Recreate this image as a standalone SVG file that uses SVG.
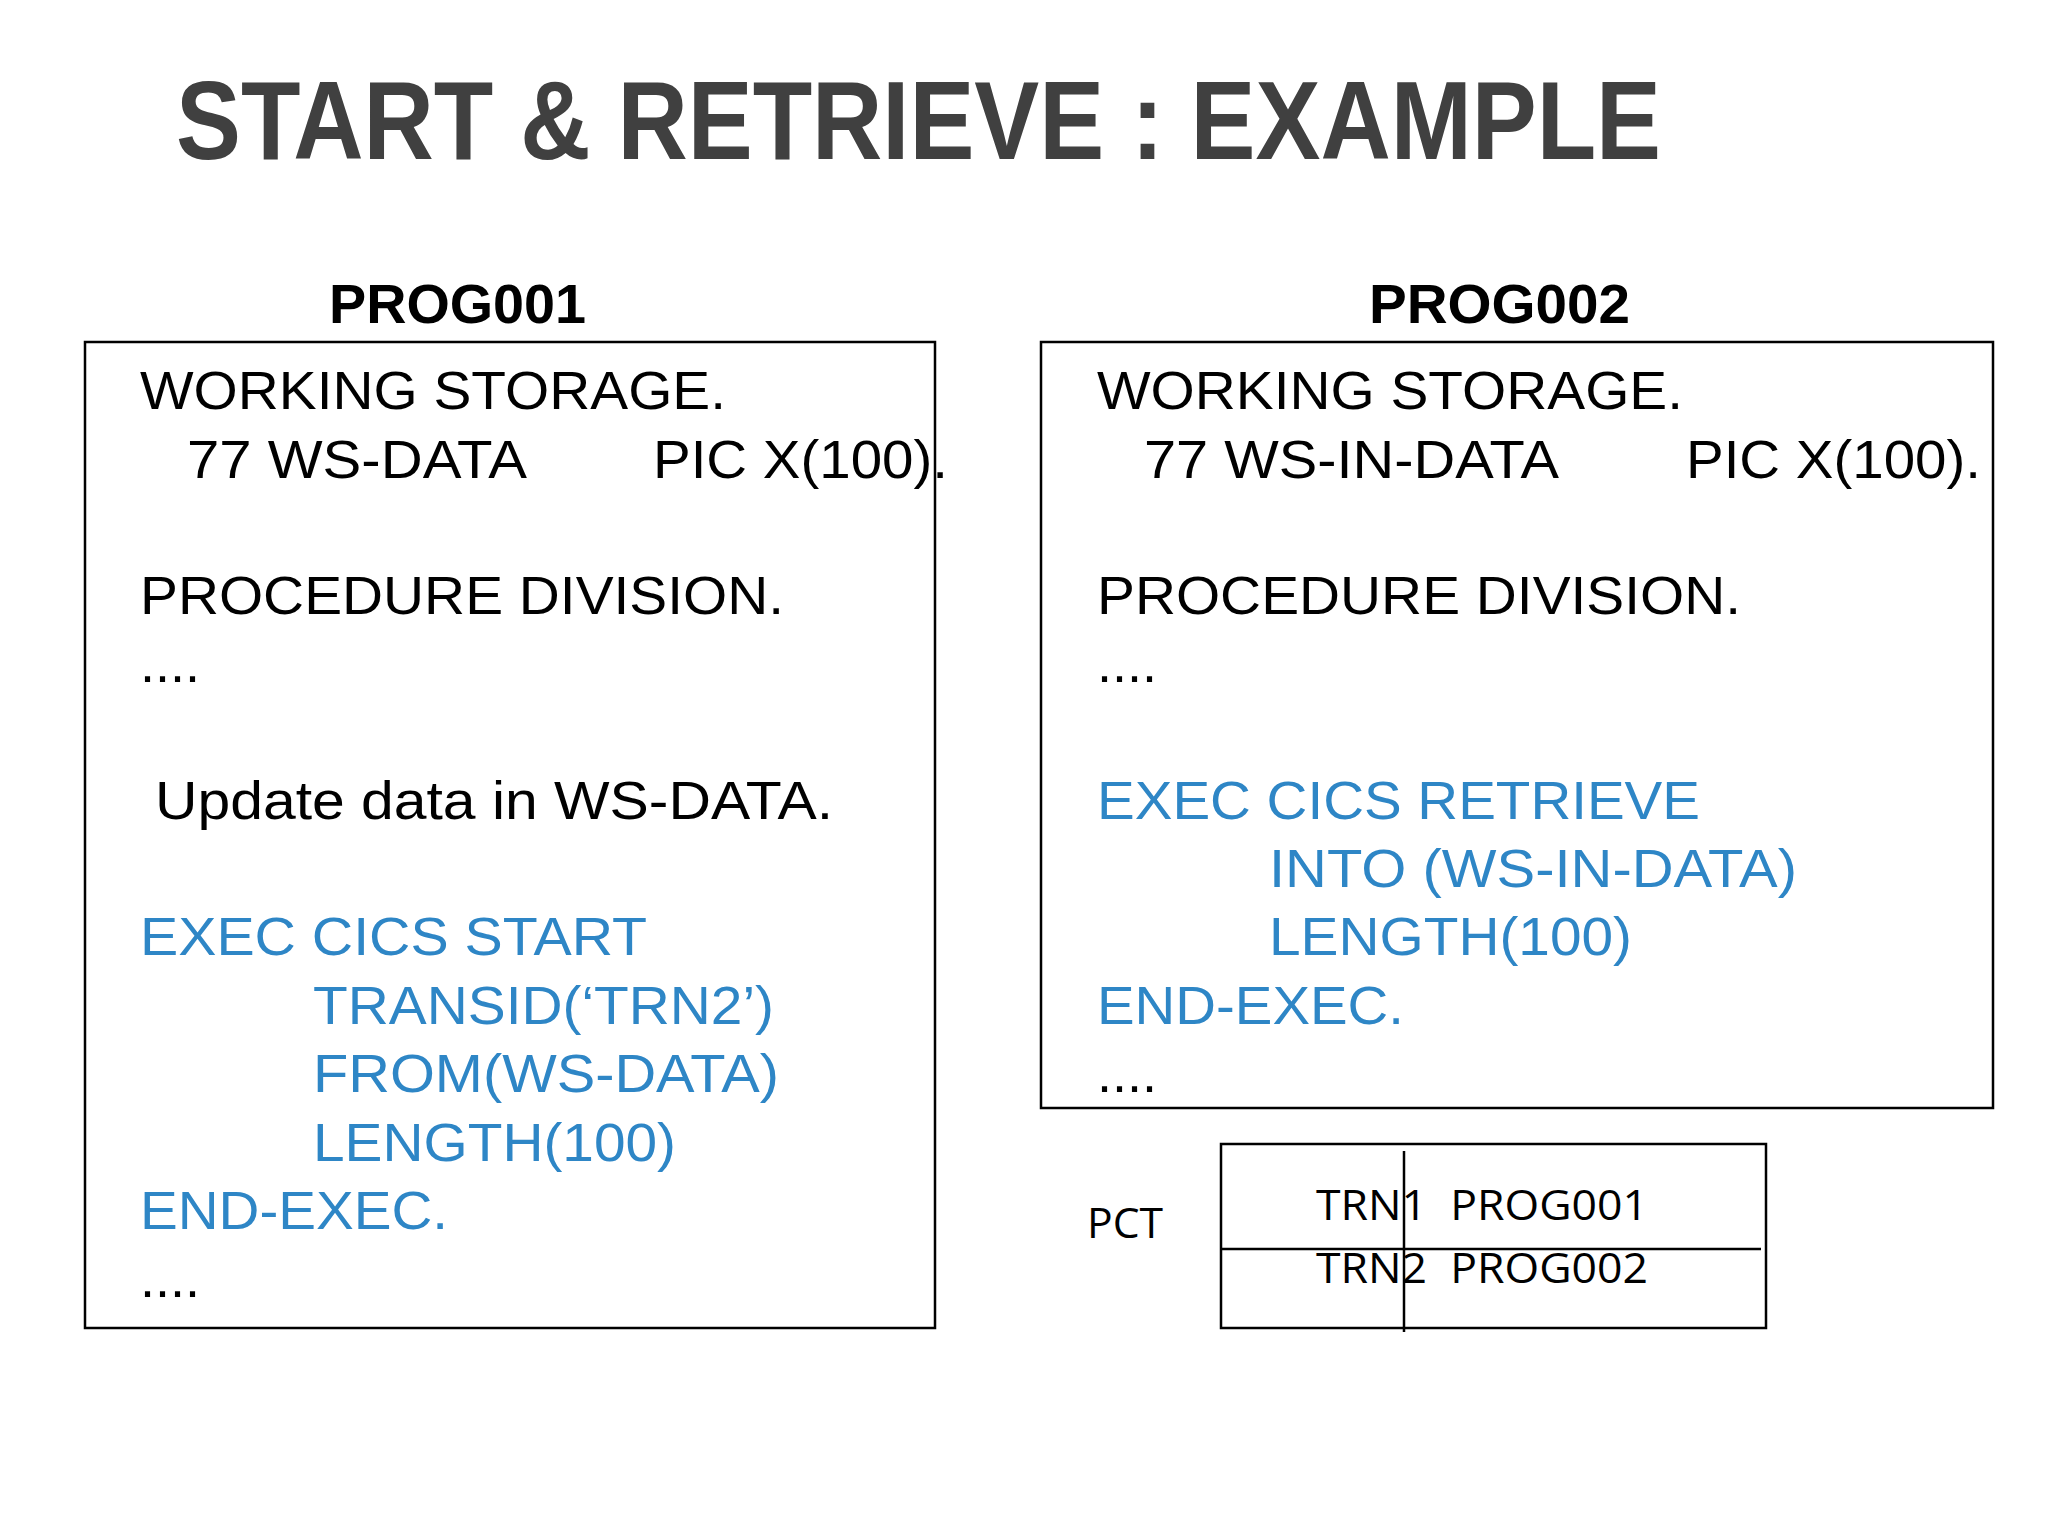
<svg xmlns="http://www.w3.org/2000/svg" width="2048" height="1536" viewBox="0 0 2048 1536">
<style>
.t{font-family:"Liberation Sans",Arial,sans-serif;font-size:54px;fill:#000}
.b{fill:#2e86c6}
.h{font-family:"Liberation Sans",Arial,sans-serif;font-size:56px;font-weight:bold;fill:#000}
.p{font-family:"Open Sans","Noto Sans",sans-serif;font-size:42px;fill:#000}
.box{fill:none;stroke:#000;stroke-width:2.5}
</style>
<rect width="2048" height="1536" fill="#fff"/>
<text x="176" y="159" font-family="Liberation Sans,Arial,sans-serif" font-size="112" font-weight="bold" fill="#404040" textLength="1485" lengthAdjust="spacingAndGlyphs">START &amp; RETRIEVE : EXAMPLE</text>
<g id="prog001">
<text class="h" x="329" y="323" textLength="257" lengthAdjust="spacingAndGlyphs">PROG001</text>
<rect class="box" x="85" y="342" width="850" height="986"/>
<text class="t" x="140" y="409" textLength="586" lengthAdjust="spacingAndGlyphs">WORKING STORAGE.</text>
<text class="t" x="187" y="478" textLength="340" lengthAdjust="spacingAndGlyphs">77 WS-DATA</text>
<text class="t" x="653" y="478" textLength="295" lengthAdjust="spacingAndGlyphs">PIC X(100).</text>
<text class="t" x="140" y="614" textLength="644" lengthAdjust="spacingAndGlyphs">PROCEDURE DIVISION.</text>
<text class="t" x="140" y="682" textLength="60" lengthAdjust="spacingAndGlyphs">....</text>
<text class="t" x="155" y="819" textLength="678" lengthAdjust="spacingAndGlyphs">Update data in  WS-DATA.</text>
<text class="t b" x="140" y="955" textLength="507" lengthAdjust="spacingAndGlyphs">EXEC CICS START</text>
<text class="t b" x="313" y="1024" textLength="461" lengthAdjust="spacingAndGlyphs">TRANSID(‘TRN2’)</text>
<text class="t b" x="313" y="1092" textLength="466" lengthAdjust="spacingAndGlyphs">FROM(WS-DATA)</text>
<text class="t b" x="313" y="1161" textLength="363" lengthAdjust="spacingAndGlyphs">LENGTH(100)</text>
<text class="t b" x="140" y="1229" textLength="308" lengthAdjust="spacingAndGlyphs">END-EXEC.</text>
<text class="t" x="140" y="1297" textLength="60" lengthAdjust="spacingAndGlyphs">....</text>
</g>
<g id="prog002">
<text class="h" x="1369" y="323" textLength="261" lengthAdjust="spacingAndGlyphs">PROG002</text>
<rect class="box" x="1041" y="342" width="952" height="766"/>
<text class="t" x="1097" y="409" textLength="586" lengthAdjust="spacingAndGlyphs">WORKING STORAGE.</text>
<text class="t" x="1144" y="478" textLength="415" lengthAdjust="spacingAndGlyphs">77 WS-IN-DATA</text>
<text class="t" x="1686" y="478" textLength="295" lengthAdjust="spacingAndGlyphs">PIC X(100).</text>
<text class="t" x="1097" y="614" textLength="644" lengthAdjust="spacingAndGlyphs">PROCEDURE DIVISION.</text>
<text class="t" x="1097" y="682" textLength="60" lengthAdjust="spacingAndGlyphs">....</text>
<text class="t b" x="1097" y="819" textLength="603" lengthAdjust="spacingAndGlyphs">EXEC CICS RETRIEVE</text>
<text class="t b" x="1269" y="887" textLength="528" lengthAdjust="spacingAndGlyphs">INTO (WS-IN-DATA)</text>
<text class="t b" x="1269" y="955" textLength="363" lengthAdjust="spacingAndGlyphs">LENGTH(100)</text>
<text class="t b" x="1097" y="1024" textLength="307" lengthAdjust="spacingAndGlyphs">END-EXEC.</text>
<text class="t" x="1097" y="1092" textLength="60" lengthAdjust="spacingAndGlyphs">....</text>
</g>
<g id="pct">
<text class="p" x="1087" y="1238" textLength="76" lengthAdjust="spacingAndGlyphs">PCT</text>
<rect class="box" x="1221" y="1144" width="545" height="184"/>
<line x1="1221" y1="1249" x2="1761" y2="1249" stroke="#000" stroke-width="2.5"/>
<line x1="1404" y1="1151" x2="1404" y2="1332" stroke="#000" stroke-width="2.5"/>
<text class="p" x="1316" y="1220" textLength="332" lengthAdjust="spacingAndGlyphs" xml:space="preserve">TRN1  PROG001</text>
<text class="p" x="1316" y="1283" textLength="332" lengthAdjust="spacingAndGlyphs" xml:space="preserve">TRN2  PROG002</text>
</g>
</svg>
